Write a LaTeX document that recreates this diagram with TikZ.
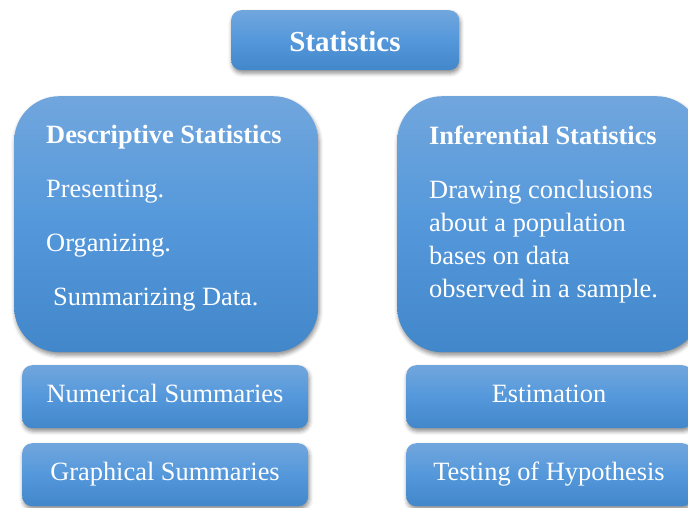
\documentclass[tikz,border=0pt]{standalone}
\usepackage{fontspec}
\setmainfont{Liberation Serif}
\usetikzlibrary{shadows.blur}
\definecolor{btop}{RGB}{113,166,221}
\definecolor{bmid}{RGB}{84,152,219}
\definecolor{bbot}{RGB}{66,135,202}
\tikzset{
  box/.style={rectangle, draw=none, top color=btop, bottom color=bbot, middle color=bmid,
    anchor=north west, inner sep=0pt,
    blur shadow={shadow xshift=1pt, shadow yshift=-3pt, shadow blur radius=4pt, shadow opacity=45}},
  smallbox/.style={box, rounded corners=10pt, minimum width=286pt, minimum height=63pt},
  bigbox/.style={box, rounded corners=45pt, minimum width=304pt, minimum height=256pt},
  txt/.style={text=white, font=\fontsize{26.4}{33}\selectfont, inner sep=0pt},
  boldtxt/.style={txt, font=\fontsize{26.4}{33}\selectfont\bfseries},
}
\begin{document}
\begin{tikzpicture}[x=1pt, y=-1pt]
\useasboundingbox (0,0) rectangle (688,507);
% boxes
\node[box, rounded corners=10pt, minimum width=228pt, minimum height=60pt] (stat) at (231,10) {};
\node[bigbox] (desc) at (14,96) {};
\node[bigbox] (infer) at (397,96) {};
\node[smallbox] (num) at (22,365) {};
\node[smallbox] (graph) at (22,443) {};
\node[smallbox] (est) at (406,365) {};
\node[smallbox] (test) at (406,443) {};
% texts
\node[boldtxt, font=\fontsize{29}{33}\selectfont\bfseries, anchor=base] (statT) at (345,51) {Statistics};
\node[boldtxt, anchor=base west] (descT) at (46,143) {Descriptive Statistics};
\node[txt, anchor=base west] (d1) at (46,197) {Presenting.};
\node[txt, anchor=base west] (d2) at (46,251) {Organizing.};
\node[txt, anchor=base west] (d3) at (53,305) {Summarizing Data.};
\node[boldtxt, anchor=base west] (inferT) at (429,144) {Inferential Statistics};
\node[txt, anchor=base west] (i1) at (429,198) {Drawing conclusions};
\node[txt, anchor=base west] (i2) at (429,231) {about a population};
\node[txt, anchor=base west] (i3) at (429,264) {bases on data};
\node[txt, anchor=base west] (i4) at (429,297) {observed in a sample.};
\node[txt, anchor=base] (numT) at (165,402) {Numerical Summaries};
\node[txt, anchor=base] (graphT) at (165,480) {Graphical Summaries};
\node[txt, anchor=base] (estT) at (549,402) {Estimation};
\node[txt, anchor=base] (testT) at (549,480) {Testing of Hypothesis};
\end{tikzpicture}
\end{document}
